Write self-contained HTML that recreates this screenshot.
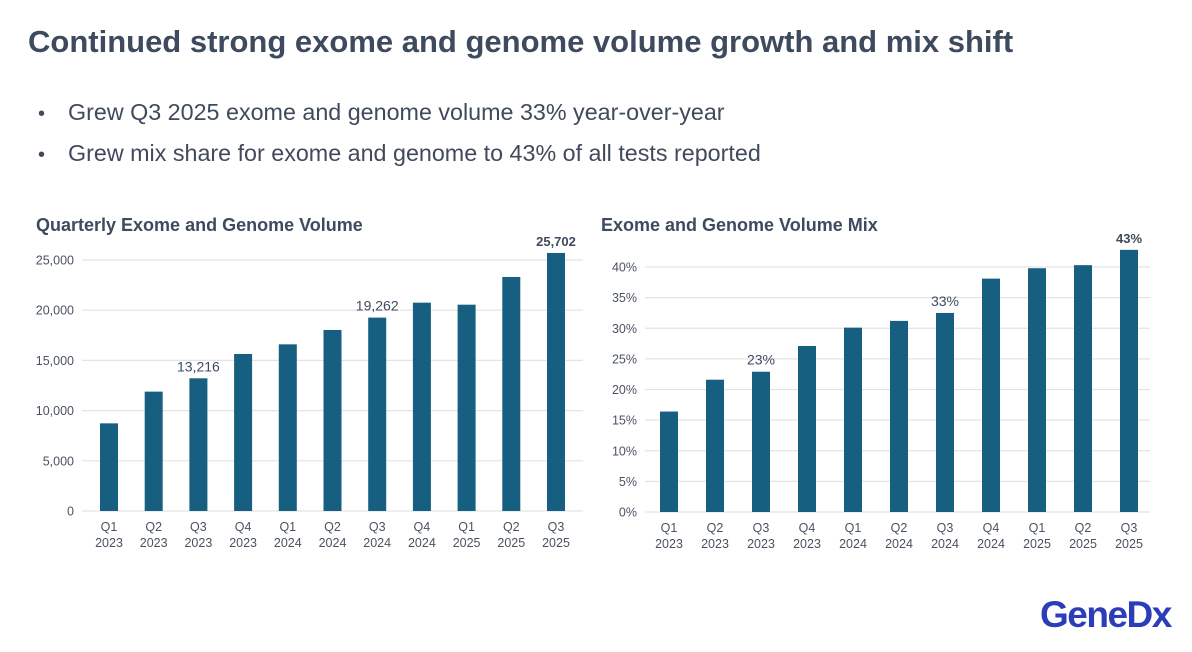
<!DOCTYPE html>
<html><head><meta charset="utf-8">
<style>
body{margin:0;width:1192px;height:652px;background:#fff;font-family:"Liberation Sans",Arial,sans-serif;overflow:hidden;position:relative;color:#404a5c}
.title{position:absolute;left:28px;top:24px;font-size:31px;font-weight:bold;color:#3e4a5e}
.bullet{position:absolute;left:38px;font-size:23.3px;color:#404a5c}
.bullet span{display:inline-block;width:30px;font-size:20px}
svg{position:absolute;left:0;top:0}
.logo{position:absolute;left:1040px;top:594px;font-size:37px;font-weight:bold;color:#2b3db8;letter-spacing:-1.5px}
</style></head><body>
<div class="title">Continued strong exome and genome volume growth and mix shift</div>
<div class="bullet" style="top:99px"><span>•</span>Grew Q3 2025 exome and genome volume 33% year-over-year</div>
<div class="bullet" style="top:140px"><span>•</span>Grew mix share for exome and genome to 43% of all tests reported</div>
<svg width="1192" height="652" id="chart"></svg>
<div class="logo">GeneDx</div>
<script>
const categories=["Q1|2023","Q2|2023","Q3|2023","Q4|2023","Q1|2024","Q2|2024","Q3|2024","Q4|2024","Q1|2025","Q2|2025","Q3|2025"];
const volumeValues=[8730,11890,13216,15640,16600,18030,19262,20750,20550,23310,25702];
const volumeLabels={2:"13,216",6:"19,262",10:"25,702"};
const volumeTicks=[0,5000,10000,15000,20000,25000];
const volumeTickLabels=["0","5,000","10,000","15,000","20,000","25,000"];
const mixValues=[16.4,21.6,22.9,27.1,30.1,31.2,32.5,38.1,39.8,40.3,42.8];
const mixLabels={2:"23%",6:"33%",10:"43%"};
const mixTicks=[0,5,10,15,20,25,30,35,40];
const mixTickLabels=["0%","5%","10%","15%","20%","25%","30%","35%","40%"];
const NS="http://www.w3.org/2000/svg";
const svg=document.getElementById('chart');
function el(tag,attrs,parent){const e=document.createElementNS(NS,tag);for(const k in attrs)e.setAttribute(k,attrs[k]);(parent||svg).appendChild(e);return e;}
function drawChart(cfg){
  const g=el('g',{});
  
  
  const t=el('text',{x:cfg.titleX,y:231,'font-size':18,'font-weight':'bold',fill:'#3e4a5e'},g);
  t.textContent=cfg.title;
  
  
  const y=v=>cfg.y0-(v-0)/cfg.vmax*(cfg.y0-cfg.ytop);
  const n=categories.length;
  const x=i=>cfg.xFirst+i*(cfg.xLast-cfg.xFirst)/(n-1);
  cfg.ticks.forEach((v,i)=>{
    const ln=el('line',{x1:cfg.gx0,x2:cfg.gx1,y1:y(v),y2:y(v),stroke:'#e3e3e3','stroke-width':1.2},g);
    
    
    const tx=el('text',{x:cfg.gx0-8,y:y(v)+4.5,'text-anchor':'end','font-size':12.5,fill:'#4a5262'},g);
    tx.textContent=cfg.tickLabels[i];
    
    
  });
  cfg.values.forEach((v,i)=>{
    const r=el('rect',{x:x(i)-9,y:y(v),width:18,height:cfg.y0-y(v),fill:'#175f80'},g);
    
    
    const [q,yr]=categories[i].split('|');
    const a=el('text',{x:x(i),y:cfg.y0+20,'text-anchor':'middle','font-size':12.5,fill:'#4a5262'},g);a.textContent=q;
    
    
    const b=el('text',{x:x(i),y:cfg.y0+36,'text-anchor':'middle','font-size':12.5,fill:'#4a5262'},g);b.textContent=yr;
    
    
    if(cfg.labels[i]){
      const l=el('text',{x:x(i),y:y(v)-7,'text-anchor':'middle','font-size':i===n-1?13:14,'font-weight':i===n-1?'bold':'normal',fill:'#3e4a5e'},g);
      l.textContent=cfg.labels[i];
      
      
    }
  });
}
drawChart({name:'volume-chart',title:'Quarterly Exome and Genome Volume',titleX:36,values:volumeValues,labels:volumeLabels,ticks:volumeTicks,tickLabels:volumeTickLabels,vmax:25000,y0:511,ytop:260,gx0:82,gx1:583,xFirst:109,xLast:556});
drawChart({name:'mix-chart',title:'Exome and Genome Volume Mix',titleX:601,values:mixValues,labels:mixLabels,ticks:mixTicks,tickLabels:mixTickLabels,vmax:40,y0:512,ytop:267,gx0:645,gx1:1150,xFirst:669,xLast:1129});
</script>
</body></html>
